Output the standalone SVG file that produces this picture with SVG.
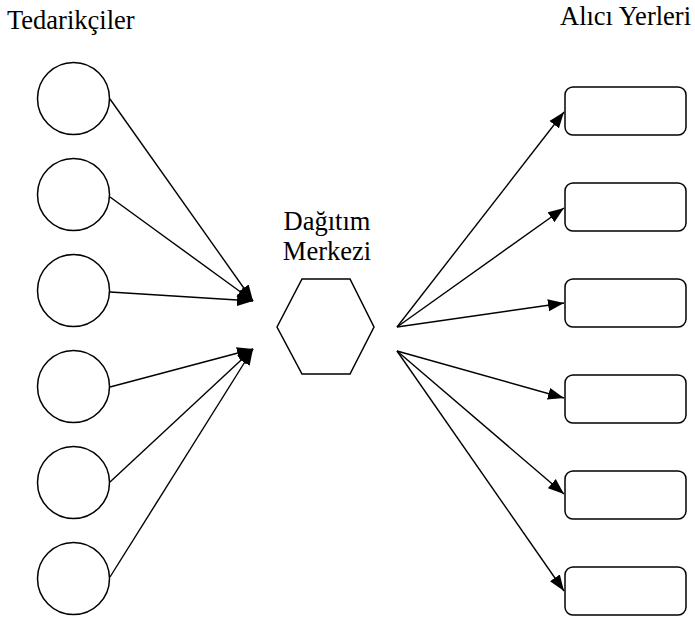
<svg xmlns="http://www.w3.org/2000/svg" width="695" height="619" viewBox="0 0 695 619">
  <style>
    .lbl { font-family: "Liberation Serif", "DejaVu Serif", serif; font-size: 26.5px; fill: #000; }
    .node { fill: #fff; stroke: #000; stroke-width: 1.5; }
    .edge { stroke: #000; stroke-width: 1.4; fill: none; marker-end: url(#arrow); }
  </style>
  <defs>
    <marker id="arrow" markerUnits="userSpaceOnUse" markerWidth="17" markerHeight="13" refX="16" refY="6.5" orient="auto">
      <path d="M0,0.5 L16,6.5 L0,12.5 Z" fill="#000"/>
    </marker>
  </defs>
  <rect width="695" height="619" fill="#fff"/>

  <text class="lbl" x="7" y="29">Tedarikçiler</text>
  <text class="lbl" x="560" y="25">Alıcı Yerleri</text>

  <!-- connectors -->
  <g id="connectors">
    <line class="edge" x1="110" y1="99" x2="253" y2="301"/>
    <line class="edge" x1="110" y1="197" x2="253" y2="301"/>
    <line class="edge" x1="110" y1="292" x2="253" y2="301"/>
    <line class="edge" x1="110" y1="387" x2="253" y2="349"/>
    <line class="edge" x1="110" y1="482" x2="253" y2="349"/>
    <line class="edge" x1="110" y1="577" x2="253" y2="349"/>
    <line class="edge" x1="397" y1="327" x2="564" y2="112"/>
    <line class="edge" x1="397" y1="327" x2="564" y2="208"/>
    <line class="edge" x1="397" y1="327" x2="564" y2="303"/>
    <line class="edge" x1="397" y1="351" x2="564" y2="398"/>
    <line class="edge" x1="397" y1="351" x2="564" y2="494"/>
    <line class="edge" x1="397" y1="351" x2="564" y2="591"/>
  </g>

  <!-- suppliers -->
  <g id="supplier1"><circle class="node" cx="73.5" cy="98.5" r="36"/></g>
  <g id="supplier2"><circle class="node" cx="73.5" cy="194.5" r="36"/></g>
  <g id="supplier3"><circle class="node" cx="73.5" cy="290.5" r="36"/></g>
  <g id="supplier4"><circle class="node" cx="73.5" cy="386.5" r="36"/></g>
  <g id="supplier5"><circle class="node" cx="73.5" cy="482.5" r="36"/></g>
  <g id="supplier6"><circle class="node" cx="73.5" cy="578.5" r="36"/></g>

  <!-- distribution center -->
  <g id="center">
    <text class="lbl" x="327" y="230" text-anchor="middle">Dağıtım</text>
    <text class="lbl" x="327" y="260" text-anchor="middle">Merkezi</text>
    <polygon class="node" points="277,327 302,279 350,279 374,327 350,374 302,374"/>
  </g>

  <!-- receivers -->
  <g id="receiver1"><rect class="node" x="565" y="87" width="121" height="48" rx="8"/></g>
  <g id="receiver2"><rect class="node" x="565" y="183" width="121" height="48" rx="8"/></g>
  <g id="receiver3"><rect class="node" x="565" y="279" width="121" height="48" rx="8"/></g>
  <g id="receiver4"><rect class="node" x="565" y="375" width="121" height="48" rx="8"/></g>
  <g id="receiver5"><rect class="node" x="565" y="471" width="121" height="48" rx="8"/></g>
  <g id="receiver6"><rect class="node" x="565" y="567" width="121" height="48" rx="8"/></g>
</svg>
